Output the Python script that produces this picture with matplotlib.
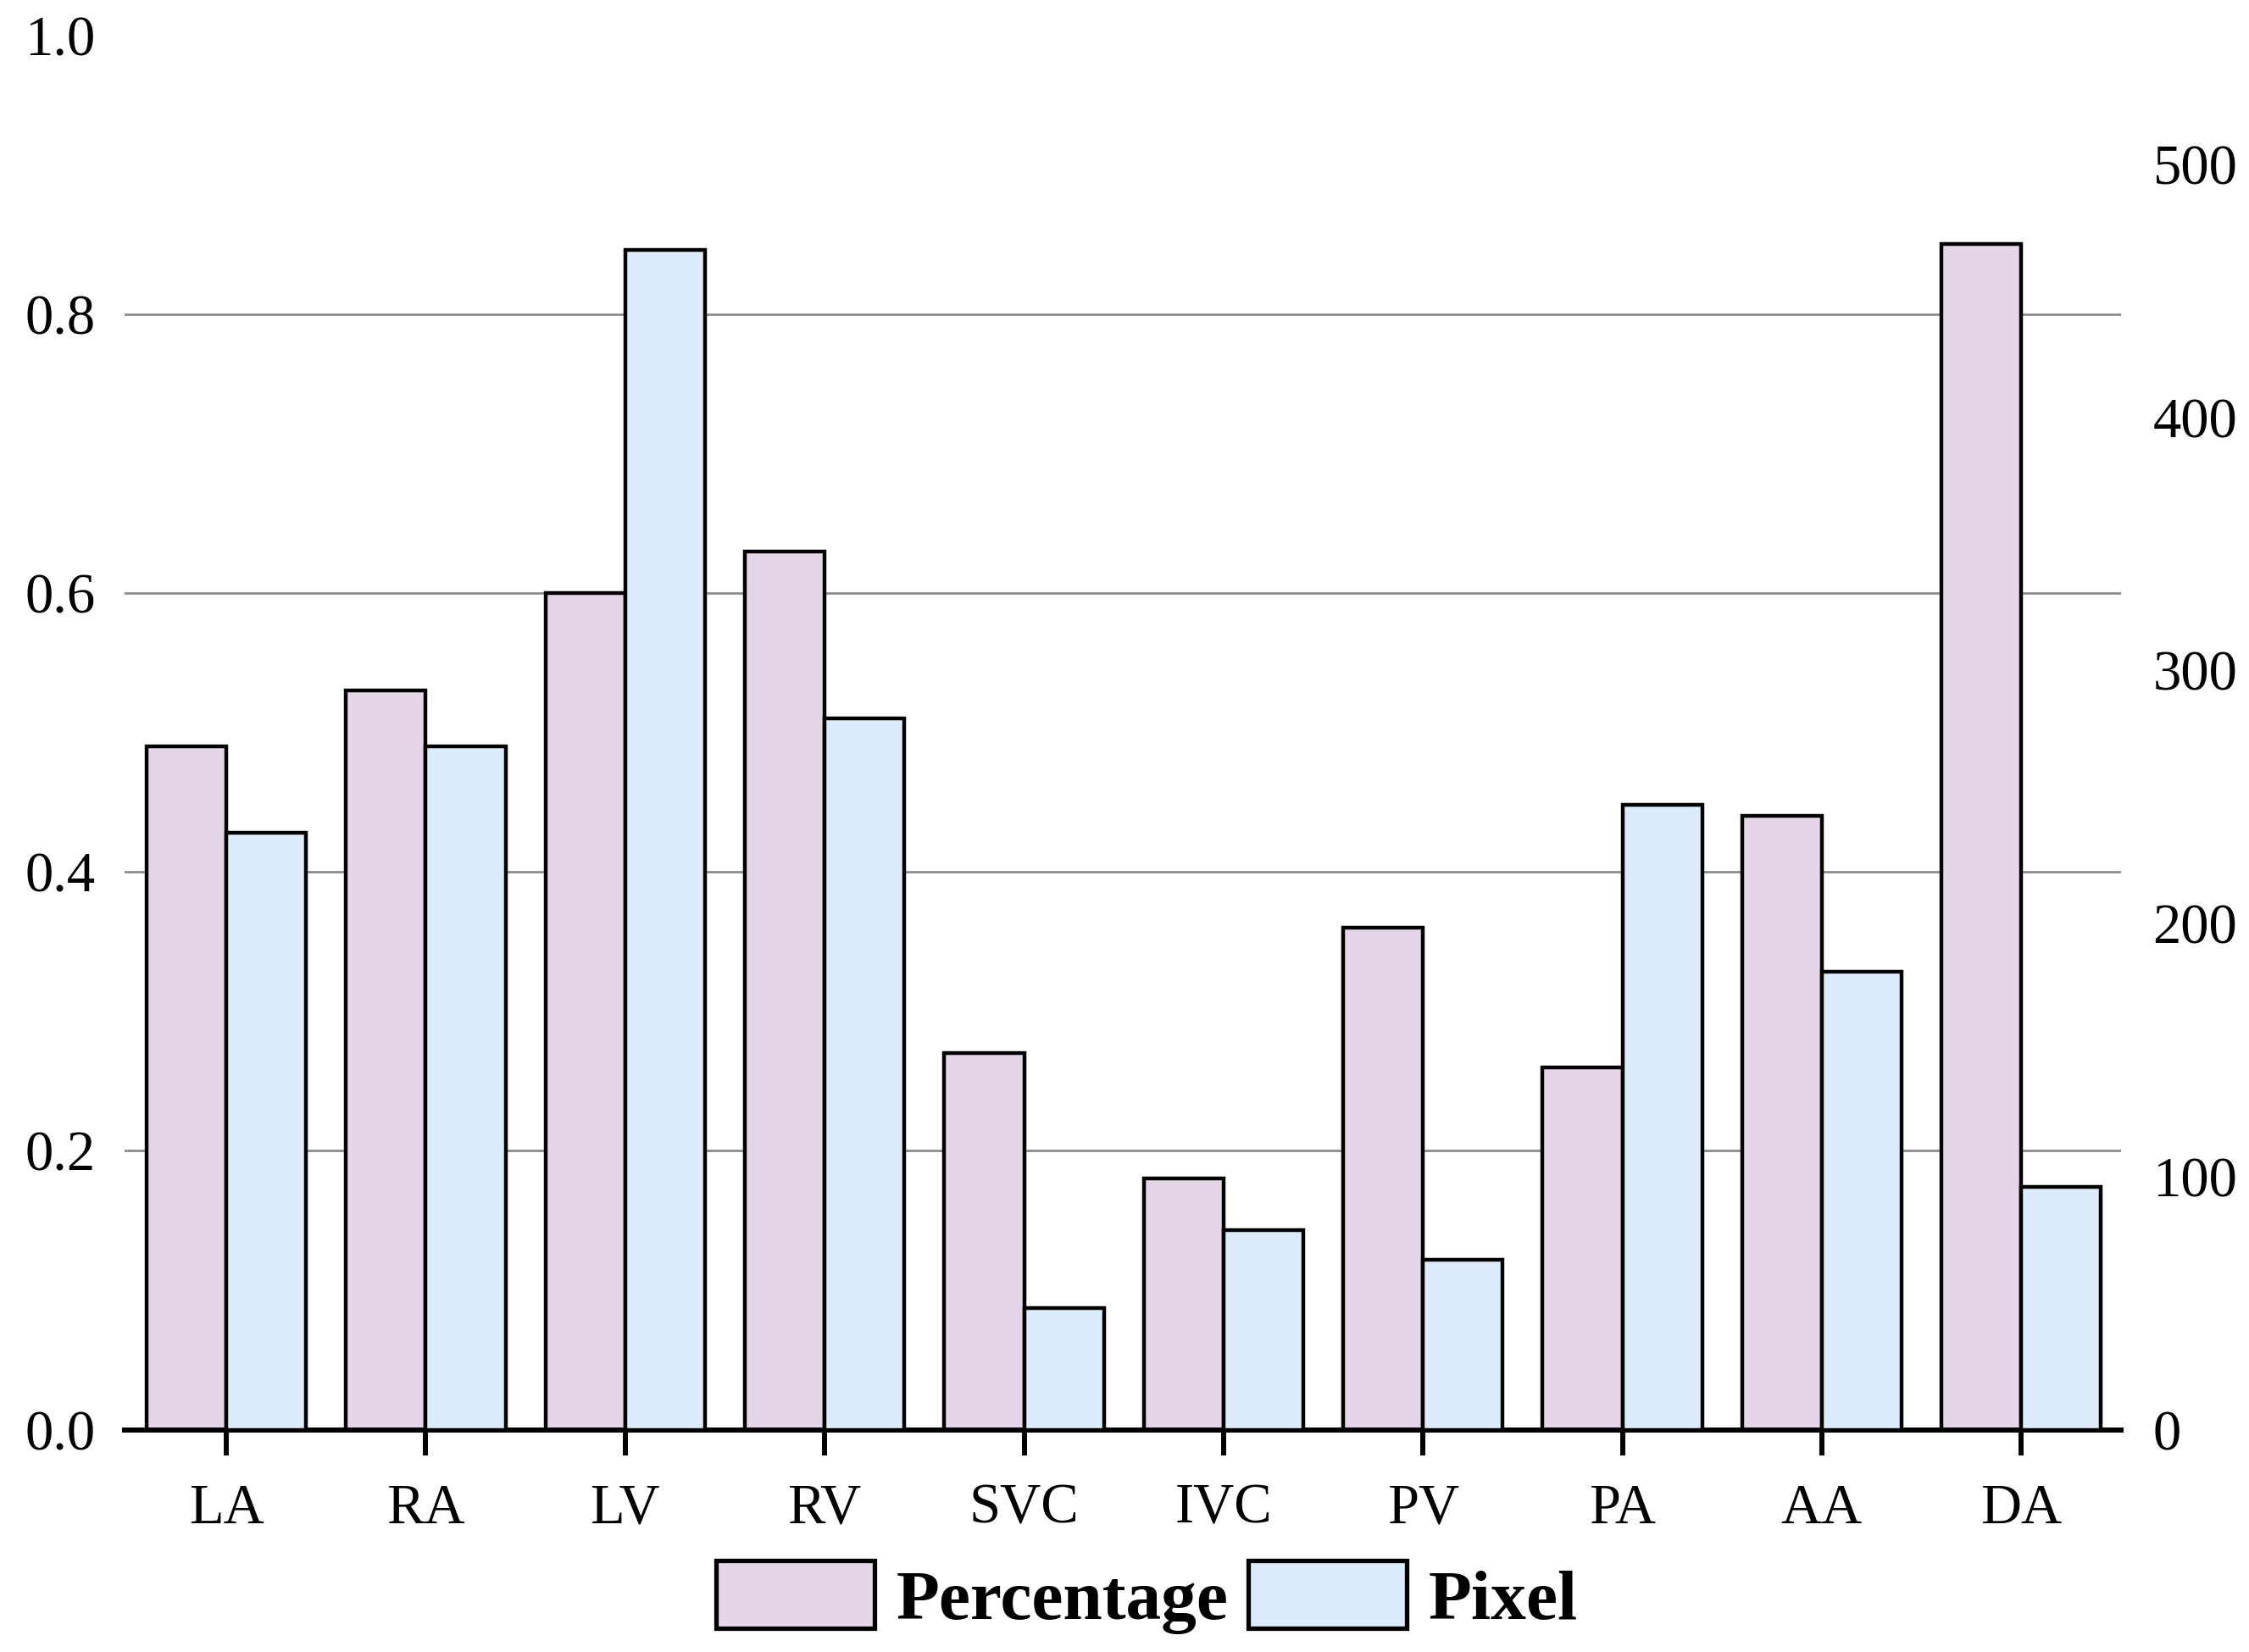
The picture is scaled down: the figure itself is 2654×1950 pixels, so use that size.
import matplotlib
matplotlib.use("Agg")
import matplotlib.pyplot as plt
import numpy as np

categories = ["LA", "RA", "LV", "RV", "SVC", "IVC", "PV", "PA", "AA", "DA"]
percentage = [0.49, 0.53, 0.60, 0.63, 0.27, 0.18, 0.36, 0.26, 0.44, 0.85]
pixel = [236, 270, 466, 281, 48, 79, 67, 247, 181, 96]
left_ticks = [0.0, 0.2, 0.4, 0.6, 0.8, 1.0]
right_ticks = [0, 100, 200, 300, 400, 500]

pink = "#E5D5E8"
blue = "#DCECFC"

plt.rcParams["font.family"] = ["Liberation Serif", "DejaVu Serif"]

fig = plt.figure(figsize=(26.54, 19.5), dpi=100)
ax = fig.add_axes([0.0554, 0.1346, 0.8877, 0.8441])
ax2 = ax.twinx()

x = np.arange(len(categories))
w = 0.4
ax.bar(x - w / 2, percentage, width=w, color=pink, edgecolor="black",
       linewidth=3.2, zorder=3, label="Percentage")
ax2.bar(x + w / 2, pixel, width=w, color=blue, edgecolor="black",
        linewidth=3.2, zorder=3, label="Pixel")

ax.set_xlim(-0.51, 9.5)
ax.set_ylim(0, 1.0)
ax2.set_ylim(0, 551)

ax.set_yticks(left_ticks)
ax.set_yticklabels([f"{v:.1f}" for v in left_ticks])
ax2.set_yticks(right_ticks)
ax2.set_yticklabels([str(v) for v in right_ticks])

ax.set_xticks(x)
ax.set_xticklabels(categories)

for a in (ax, ax2):
    for s in ("top", "left", "right"):
        a.spines[s].set_visible(False)
    a.spines["bottom"].set_linewidth(4.3)
    a.spines["bottom"].set_color("black")

ax.tick_params(axis="y", length=0, pad=25, labelsize=48)
ax2.tick_params(axis="y", length=0, pad=27, labelsize=48)
ax.tick_params(axis="x", length=21.6, width=4.3, pad=24, labelsize=48, color="black")

ax.yaxis.grid(True, color="#8c8c8c", linewidth=2.0, zorder=0)
ax.set_axisbelow(True)
gl = ax.yaxis.get_gridlines()
for line, t in zip(gl, left_ticks):
    if t in (0.0, 1.0):
        line.set_visible(False)

h1, l1 = ax.get_legend_handles_labels()
h2, l2 = ax2.get_legend_handles_labels()
leg = fig.legend(h1 + h2, l1 + l2, loc="center", bbox_to_anchor=(0.51, 0.033),
                 ncol=2, frameon=False, handlelength=2.24, handleheight=1.1,
                 handletextpad=0.31, columnspacing=0.29,
                 prop={"family": "Liberation Serif", "weight": "bold", "size": 60})
for p in leg.get_patches():
    p.set_linewidth(3.8)

fig.savefig("out.png", dpi=100)
